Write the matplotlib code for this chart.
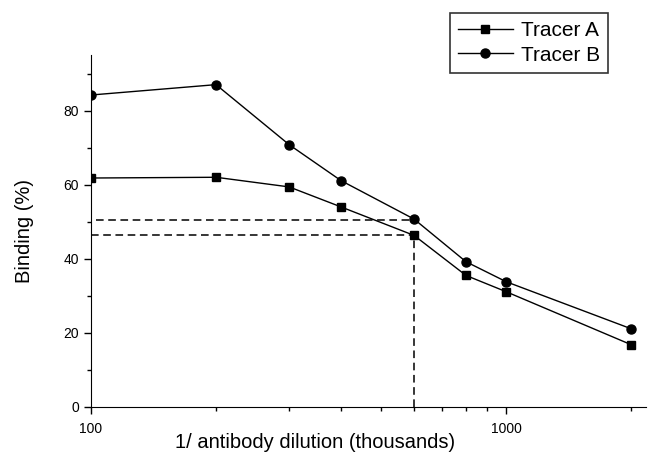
import matplotlib
matplotlib.use("Agg")
import matplotlib.pyplot as plt
from matplotlib.ticker import FixedLocator, NullFormatter, FixedFormatter

plt.rcParams['font.family'] = ['Liberation Sans', 'DejaVu Sans']

dilution = [100, 200, 300, 400, 600, 800, 1000, 2000]
tracer_a = [61.8, 62.0, 59.4, 54.0, 46.3, 35.5, 31.1, 16.8]
tracer_b = [84.2, 87.0, 70.8, 61.1, 50.7, 39.2, 33.8, 21.1]
ref_x = 600
ref_a = 46.3
ref_b = 50.4

fig = plt.figure(figsize=(6.49, 4.53), dpi=100)
ax = fig.add_axes([91/649, 1-407/453, (646-91)/649, (407-55)/453])

la, = ax.plot(dilution, tracer_a, '-s', color='black', lw=1.0, ms=6, label='Tracer A')
lb, = ax.plot(dilution, tracer_b, '-o', color='black', lw=1.0, ms=6.5, label='Tracer B')

dash = dict(color='black', lw=1.1, ls=(0, (5, 3)))
ax.plot([100, ref_x], [ref_a, ref_a], **dash)
ax.plot([103, ref_x], [ref_b, ref_b], **dash)
ax.plot([ref_x, ref_x], [0, ref_a], **dash)

ax.set_xscale('log')
ax.set_xlim(100, 2170)
ax.set_ylim(0, 95)
ax.spines['top'].set_visible(False)
ax.spines['right'].set_visible(False)

ax.xaxis.set_major_locator(FixedLocator([100, 1000]))
ax.xaxis.set_major_formatter(FixedFormatter(['100', '1000']))
ax.xaxis.set_minor_locator(FixedLocator([200, 300, 400, 500, 600, 700, 800, 900, 2000]))
ax.xaxis.set_minor_formatter(NullFormatter())
ax.set_yticks([0, 20, 40, 60, 80])
ax.yaxis.set_minor_locator(FixedLocator([10, 30, 50, 70, 90]))
ax.tick_params(which='major', length=5, width=1, labelsize=10, direction='out')
ax.tick_params(which='minor', length=3, width=1, direction='out')
ax.tick_params(axis='x', pad=6)

ax.set_xlabel('1/ antibody dilution (thousands)', fontsize=14.5, labelpad=0)
ax.xaxis.label.set_va('bottom')
ax.xaxis.set_label_coords((315-91)/555, -45/352)
ax.set_ylabel('Binding (%)', fontsize=14.5)
ax.yaxis.set_label_coords(-0.102, 0.5)

leg = fig.legend(handles=[la, lb], loc='upper left', bbox_to_anchor=(450/649, 1-13/453),
                 frameon=True, fancybox=False, edgecolor='black', fontsize=15,
                 handlelength=2.6, borderpad=0.4, labelspacing=0.25, handletextpad=0.4,
                 borderaxespad=0)
leg.get_frame().set_linewidth(1.2)

fig.savefig('out.png', dpi=100)
